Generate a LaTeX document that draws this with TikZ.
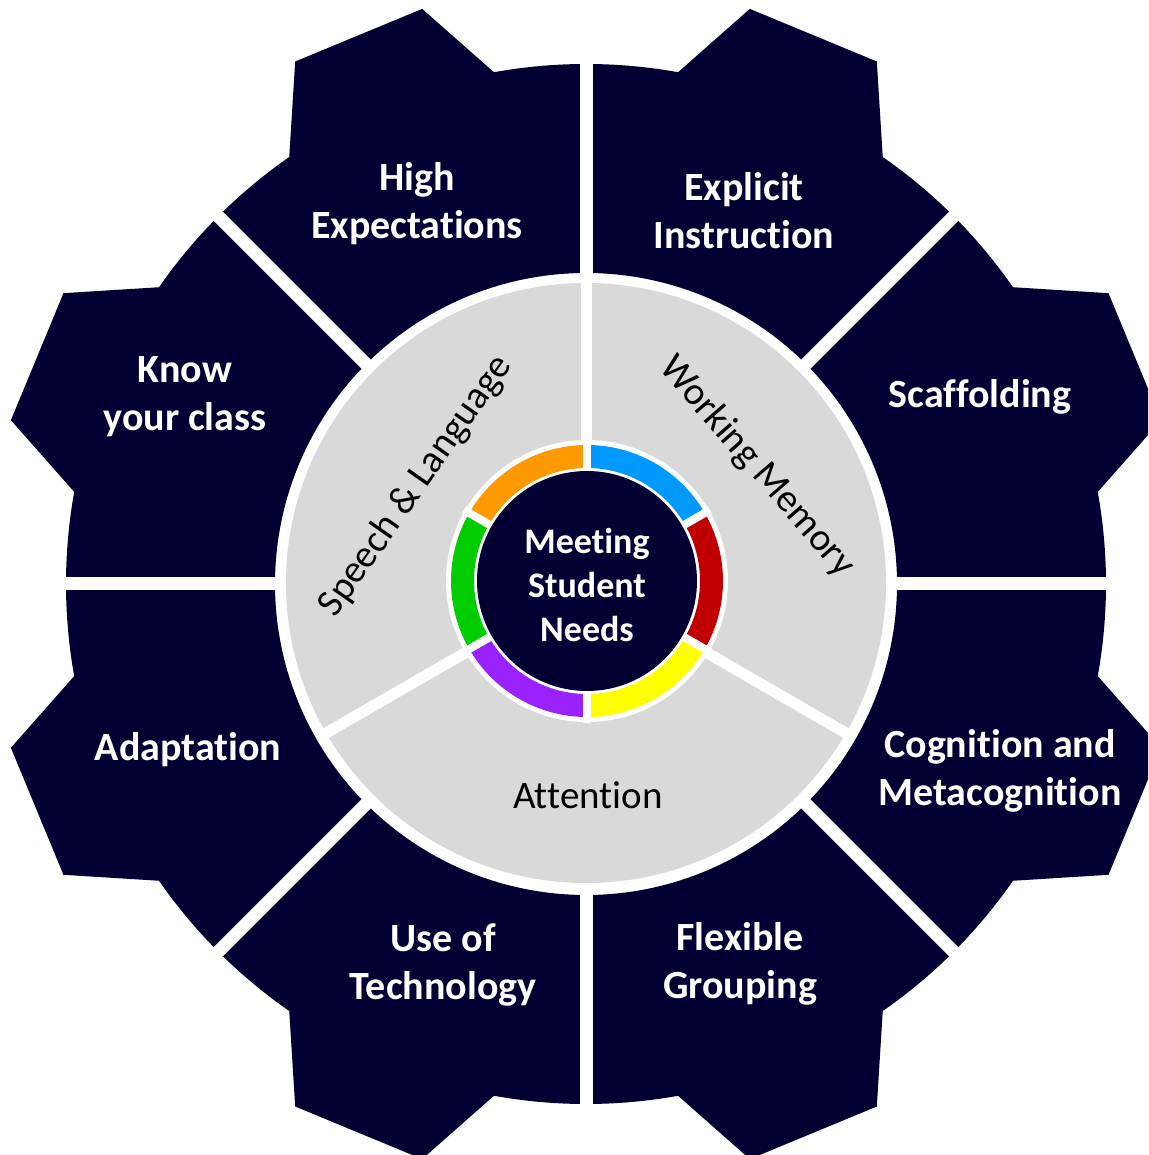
\documentclass[tikz,border=0pt]{standalone}
\usepackage{fontspec}
\setmainfont{Carlito}[Ligatures=NoCommon]
\definecolor{navy}{RGB}{2,0,50}
\definecolor{ringgray}{RGB}{217,217,217}
\definecolor{cblue}{RGB}{0,153,255}
\definecolor{cred}{RGB}{192,0,0}
\definecolor{cyellow}{RGB}{255,255,0}
\definecolor{cpurple}{RGB}{153,34,255}
\definecolor{cgreen}{RGB}{0,204,0}
\definecolor{corange}{RGB}{255,153,0}
\begin{document}
\begin{tikzpicture}[x=1pt,y=1pt,
  seglabel/.style={text=white, font=\bfseries\fontsize{40}{48}\selectfont, align=center},
  ringlabel/.style={text=black, font=\fontsize{39}{47}\selectfont, inner sep=0pt},
  hublabel/.style={text=white, font=\bfseries\fontsize{36}{44}\selectfont, align=center},
  gapline/.style={white, line width=13pt},
  ringgap/.style={white, line width=11pt},
  huegap/.style={white, line width=8pt}]
\useasboundingbox (-586,-571) rectangle (562,584);
\fill[white] (-586,-571) rectangle (562,584);
\clip (-586,-571) rectangle (562,584);
% gear segments
\foreach \k in {0,...,7}{
  \pgfmathsetmacro\a{45*\k}
  \pgfmathsetmacro\m{45*\k+22.5}
  \fill[navy] ({\a}:311) -- ({\a}:520)
    arc[start angle=\a, end angle=\m-12.3, radius=520]
    -- ({\m-6.6}:598) -- ({\m+6.6}:598) -- ({\m+12.3}:520)
    arc[start angle=\m+12.3, end angle=\a+45, radius=520]
    -- ({\a+45}:311)
    arc[start angle=\a+45, end angle=\a, radius=311] -- cycle;
}
\foreach \k in {0,...,7}{
  \draw[gapline] (0,0) -- ({45*\k}:640);
}
% gray ring
\fill[ringgray] (0,1) circle[radius=300];
\foreach \a in {90,210,330}{
  \draw[ringgap] (0,1) -- ++(\a:306);
}
% coloured ring and hub
\begin{scope}[shift={(1,3)}]
  \fill[white] (0,0) circle[radius=141];
  \foreach \a/\c in {30/cblue,-30/cred,-90/cyellow,210/cpurple,150/cgreen,90/corange}{
    \fill[\c] (\a:136) arc[start angle=\a, end angle=\a+60, radius=136]
      -- ({\a+60}:113) arc[start angle=\a+60, end angle=\a, radius=113] -- cycle;
  }
  \foreach \a in {30,90,150,210,270,330}{
    \draw[huegap] (0,0) -- (\a:142);
  }
  \fill[navy] (0,0) circle[radius=110];
\end{scope}
% labels
\node[hublabel] (hub) at (1,-1) {Meeting\\Student\\Needs};
\node[seglabel] (highexp) at (-169,380) {High\\Expectations};
\node[seglabel] (explicit) at (158,373) {Explicit\\Instruction};
\node[seglabel] (knowclass) at (-401,187) {Know\\your class};
\node[seglabel] (scaffold) at (394,187) {Scaffolding};
\node[seglabel] (adapt) at (-398,-166) {Adaptation};
\node[seglabel] (cognition) at (414,-187) {Cognition and\\Metacognition};
\node[seglabel] (usetech) at (-143,-381) {Use of\\Technology};
\node[seglabel] (flexgroup) at (154,-380) {Flexible\\Grouping};
\node[ringlabel, rotate=55] (speech) at (-170,98) {Speech \& Language};
\node[ringlabel, rotate=-49] (working) at (171,117) {Working Memory};
\node[ringlabel, anchor=base] (attention) at (2,-224) {Attention};
\end{tikzpicture}
\end{document}
